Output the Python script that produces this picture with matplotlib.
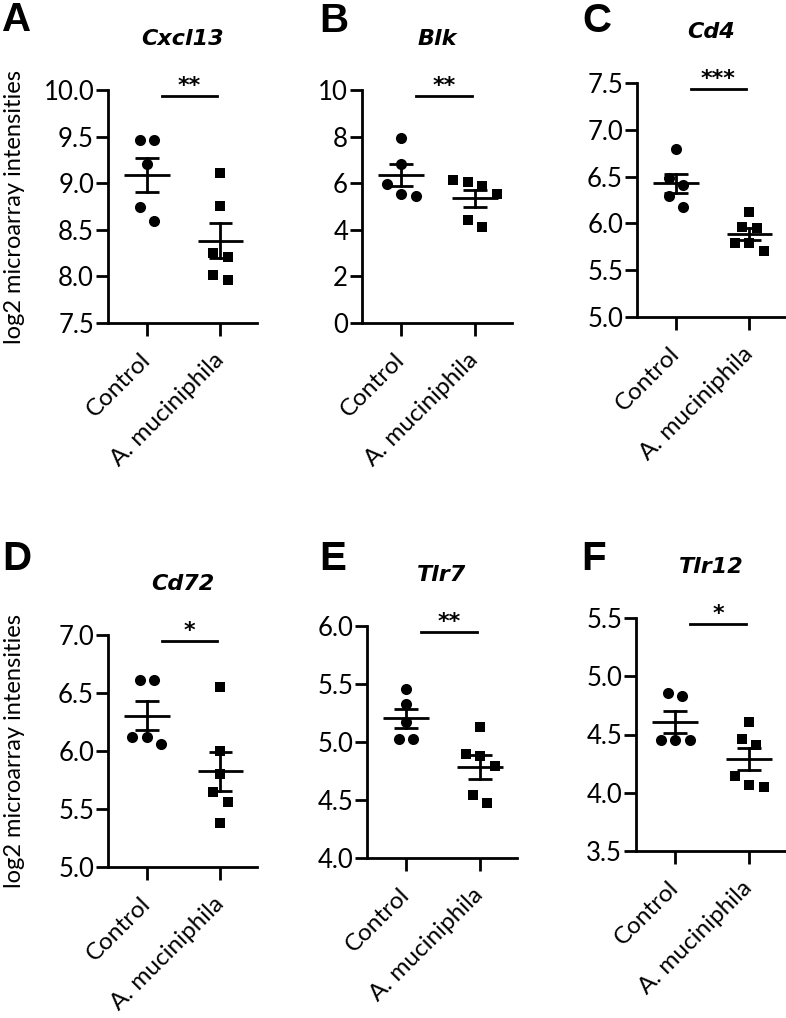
import numpy as np
import matplotlib
matplotlib.use("Agg")
import matplotlib.pyplot as plt

# ---------------- data ----------------
groups = ["Control", "A. muciniphila"]
genes = ["Cxcl13", "Blk", "Cd4", "Cd72", "Tlr7", "Tlr12"]
letters = ["A", "B", "C", "D", "E", "F"]
stars = ["**", "**", "***", "*", "**", "*"]

cxcl13_ctrl = [9.46, 9.46, 9.21, 8.74, 8.59]
cxcl13_akk = [9.11, 8.76, 8.25, 8.21, 8.01, 7.96]
blk_ctrl = [7.96, 6.81, 5.96, 5.54, 5.43]
blk_akk = [6.14, 6.07, 5.86, 5.54, 4.40, 4.12]
cd4_ctrl = [6.79, 6.48, 6.41, 6.29, 6.17]
cd4_akk = [6.125, 5.96, 5.95, 5.79, 5.79, 5.70]
cd72_ctrl = [6.61, 6.61, 6.12, 6.12, 6.06]
cd72_akk = [6.55, 6.00, 5.80, 5.65, 5.56, 5.38]
tlr7_ctrl = [5.46, 5.325, 5.175, 5.03, 5.03]
tlr7_akk = [5.13, 4.90, 4.88, 4.79, 4.54, 4.47]
tlr12_ctrl = [4.856, 4.83, 4.455, 4.455, 4.455]
tlr12_akk = [4.61, 4.465, 4.41, 4.14, 4.07, 4.05]

ctrl_data = [cxcl13_ctrl, blk_ctrl, cd4_ctrl, cd72_ctrl, tlr7_ctrl, tlr12_ctrl]
akk_data = [cxcl13_akk, blk_akk, cd4_akk, cd72_akk, tlr7_akk, tlr12_akk]

y_limits = [(7.5, 10.0), (0, 10), (5.0, 7.5), (5.0, 7.0), (4.0, 6.0), (3.5, 5.5)]
y_steps = [0.5, 2, 0.5, 0.5, 0.5, 0.5]
y_formats = ["{:.1f}", "{:.0f}", "{:.1f}", "{:.1f}", "{:.1f}", "{:.1f}"]
ylabel = "log2 microarray intensities"

# ---------------- layout (pixels: left, top, right, bottom) ----------------
W, H = 786, 1018
boxes = [(108, 90, 257, 323), (362, 90, 512, 323), (637, 83, 786, 317),
         (108, 635, 257, 867), (367, 626, 517, 858), (636, 618, 786, 851)]
letter_pos = [(2, 31), (319, 32), (582, 32), (2, 570), (319, 570), (581, 570)]
XLIM = (-0.53, 1.5)

plt.rcParams['font.family'] = ['Lato', 'DejaVu Sans']
fig = plt.figure(figsize=(W / 100, H / 100), dpi=100)

LW = 2.0
D_PX = 14.5


def swarm(values, center, px_x, px_y):
    vals = sorted(values, reverse=True)
    rows = []
    for v in vals:
        if rows and (rows[-1][0] - v) * px_y < D_PX * 1.05:
            rows[-1].append(v)
        else:
            rows.append([v])
    xs, ys = [], []
    for row in rows:
        n = len(row)
        for i, v in enumerate(row):
            xs.append(center + (i - (n - 1) / 2) * D_PX / px_x)
            ys.append(v)
    return xs, ys


for k in range(6):
    l, t, r, b = boxes[k]
    ax = fig.add_axes([l / W, 1 - b / H, (r - l) / W, (b - t) / H])
    ylo, yhi = y_limits[k]
    ax.set_xlim(*XLIM)
    ax.set_ylim(ylo, yhi)
    px_x = (r - l) / (XLIM[1] - XLIM[0])
    px_y = (b - t) / (yhi - ylo)

    for gi, (data, marker, ms) in enumerate([(ctrl_data[k], 'o', 8.0), (akk_data[k], 's', 6.8)]):
        xs, ys = swarm(data, gi, px_x, px_y)
        ax.plot(xs, ys, linestyle='none', marker=marker, markersize=ms,
                color='black', markeredgewidth=0, clip_on=False, zorder=3)
        arr = np.array(data)
        m = arr.mean()
        sem = arr.std(ddof=1) / np.sqrt(len(arr))
        ax.plot([gi - 0.31, gi + 0.31], [m, m], color='black', lw=LW, zorder=4,
                solid_capstyle='butt')
        ax.plot([gi, gi], [m - sem, m + sem], color='black', lw=LW, zorder=4)
        for yy in (m - sem, m + sem):
            ax.plot([gi - 0.16, gi + 0.16], [yy, yy], color='black', lw=LW, zorder=4,
                    solid_capstyle='butt')

    # significance
    tr = ax.get_xaxis_transform()
    ax.plot([0.2, 0.96], [0.975, 0.975], color='black', lw=LW, transform=tr, clip_on=False)
    ax.text(0.58, 0.975, stars[k], transform=tr, ha='center', va='bottom',
            fontsize=16, fontweight='bold', family='DejaVu Sans')

    # axes styling
    for s in ['top', 'right']:
        ax.spines[s].set_visible(False)
    for s in ['left', 'bottom']:
        ax.spines[s].set_linewidth(LW)
    ticks = np.arange(ylo, yhi + 1e-9, y_steps[k])
    ax.set_yticks(ticks)
    ax.set_yticklabels([y_formats[k].format(v) for v in ticks])
    ax.set_xticks([0, 1])
    ax.set_xticklabels(groups, rotation=45, ha='right', va='center',
                       rotation_mode='anchor')
    ax.tick_params(axis='y', length=9, width=LW, labelsize=18.5, pad=1)
    ax.tick_params(axis='x', length=9, width=LW, labelsize=17.5, pad=15)

    if k in (0, 3):
        ax.set_ylabel(ylabel, fontsize=17)
        ax.yaxis.set_label_coords(-0.555, 0.5)

    ax.annotate(genes[k], xy=(0.5, 1.0), xycoords='axes fraction',
                xytext=(0, 32.4), textcoords='offset points', ha='center',
                va='baseline', fontsize=16, fontweight='bold', style='italic',
                family='DejaVu Sans')

    lx, ly = letter_pos[k]
    fig.text(lx / W, 1 - ly / H, letters[k], ha='left', va='baseline',
             fontsize=29, fontweight='bold', family='Liberation Sans')

fig.savefig("out.png", dpi=100)
